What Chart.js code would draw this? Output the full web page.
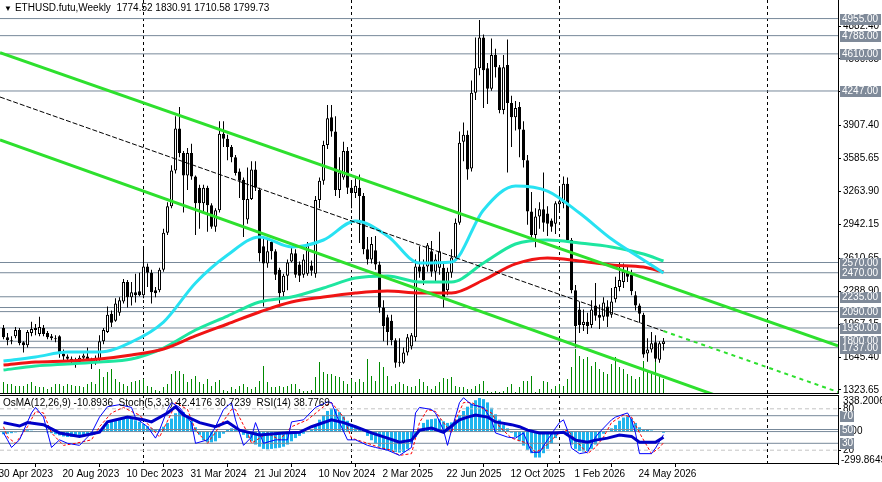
<!DOCTYPE html>
<html>
<head>
<meta charset="utf-8">
<script src="https://cdn.jsdelivr.net/npm/chart.js@4.4.1/dist/chart.umd.min.js"></script>
<style>
  html, body { margin: 0; padding: 0; background: #fff; }
  #wrap { position: relative; width: 882px; height: 482px; overflow: hidden; background: #fff; }
  #main { position: absolute; left: 0; top: 0; }
  #sub { position: absolute; left: 0; top: 395px; }
  .hdr { position: absolute; color: #000; white-space: pre; line-height: 12px; }
  .tri { font-size: 8px; margin-right: 3px; }
</style>
</head>
<body>
<div id="wrap">
  <canvas id="main" width="882" height="394"></canvas>
  <canvas id="sub" width="882" height="87"></canvas>
  <div class="hdr" id="hdrMain" style="left:4px; top:2px"><span class="tri">&#9660;</span>ETHUSD.futu,Weekly  1774.52 1830.91 1710.58 1799.73</div>
  <div class="hdr" id="hdrSub" style="left:3px; top:397px">OsMA(12,26,9) -10.8936  Stoch(5,3,3) 42.4176 30.7239  RSI(14) 38.7769</div>
</div>
<script>
// weekly candles, one per bar index (bar 0 = 30 Apr 2023)
const opens = [
  1930,1840,1810,1850,1910,1790,1760,1880,1910,1870,
  1930,1880,1850,1830,1850,1680,1650,1630,1620,1600,
  1640,1650,1620,1590,1620,1800,1890,2070,2000,2080,
  2190,2380,2230,2280,2290,2250,2530,2470,2300,2300,
  2500,2860,3120,3470,3880,3640,3420,3640,3410,3300,
  3150,3300,3130,2920,3080,3830,3780,3700,3600,3460,
  3380,2990,3190,3480,3280,2730,2560,2770,2680,2500,
  2280,2440,2580,2660,2550,2450,2460,2540,2460,3180,
  3370,3720,3990,3850,3280,3400,3660,3300,3250,3300,
  3220,2700,2600,2690,2550,2130,2036,2000,1810,1590,
  1590,1690,1750,1840,2530,2530,2530,2680,2480,2520,
  2520,2300,2470,2620,2960,3750,3820,3490,4230,4470,
  4770,4470,4270,4600,4480,4060,4500,4130,3990,4090,
  3870,3570,3070,2840,3020,3090,3050,2980,2950,3140,
  3150,3340,2790,2300,2110,1960,1990,1960,2150,2060,
  2040,2140,2060,2210,2330,2380,2470,2450,2250,2150,
  2060,1680,1720,1790,1620,1774.52];
const highs = [
  1960,1880,1850,1940,1930,1800,1910,1990,1970,2040,
  1960,1900,1870,1860,1860,1720,1670,1650,1640,1660,
  1680,1740,1640,1660,1860,1930,2140,2100,2220,2230,
  2410,2400,2380,2460,2470,2710,2560,2500,2330,2520,
  2900,3160,3520,4000,4090,3660,3690,3730,3420,3330,
  3330,3320,3150,3100,3950,3950,3820,3720,3620,3490,
  3400,3500,3560,3560,3300,2800,2790,2800,2700,2520,
  2460,2600,2720,2700,2580,2650,2770,2590,3220,3400,
  3760,4110,4110,4000,3600,3750,3700,3350,3400,3430,
  3250,2820,2820,2830,2580,2200,2060,2060,1830,1830,
  1740,1870,1880,2600,2730,2600,2760,2780,2650,2870,
  2560,2520,2700,3000,3850,3940,3860,4350,4770,4940,
  4800,4520,4760,4660,4500,4600,4750,4200,4150,4140,
  3950,3620,3260,3100,3160,3450,3120,3000,3170,3300,
  3410,3400,2810,2350,2190,2110,2080,2200,2370,2160,
  2230,2200,2320,2430,2570,2560,2530,2500,2290,2170,
  2080,1830,1890,1860,1800,1830.91];
const lows = [
  1820,1760,1770,1830,1760,1690,1740,1850,1860,1850,
  1850,1820,1810,1790,1640,1600,1600,1580,1540,1580,
  1610,1610,1530,1570,1610,1770,1880,1940,1990,2050,
  2170,2130,2150,2180,2240,2220,2330,2170,2230,2280,
  2480,2840,3100,3440,3600,3060,3280,3380,2840,2900,
  3050,2870,2900,2870,3060,3700,3570,3550,3420,3200,
  2820,2950,3180,3270,2580,2140,2520,2600,2400,2170,
  2240,2300,2570,2420,2380,2420,2440,2440,2420,3100,
  3330,3680,3800,3220,3200,3380,3240,3100,3200,2760,
  2650,2550,2560,2500,2080,1800,1760,1760,1540,1550,
  1580,1660,1720,1800,2420,2350,2480,2430,2380,2450,
  2130,2250,2420,2600,2940,3560,3380,3460,4160,4400,
  4080,4120,4250,4380,4030,4020,3450,3700,3860,3600,
  3500,2940,2780,2720,2900,2870,2830,2870,2850,3060,
  3100,2760,2270,1740,1880,1900,1870,1930,2000,1920,
  2000,1940,2030,2180,2290,2320,2380,2250,2100,1980,
  1640,1600,1690,1600,1590,1710.58];
const closes = [
  1840,1810,1800,1910,1780,1760,1890,1920,1930,1940,
  1870,1840,1830,1820,1680,1650,1630,1610,1600,1640,
  1660,1620,1590,1640,1800,1910,2060,1980,2170,2200,
  2380,2230,2280,2250,2250,2530,2470,2280,2270,2500,
  2860,3120,3470,3880,3640,3420,3640,3410,3150,3150,
  3300,3130,2920,3080,3830,3780,3700,3600,3445,3370,
  3180,3190,3480,3300,2660,2560,2680,2680,2450,2270,
  2440,2570,2660,2450,2440,2600,2740,2490,3180,3370,
  3720,3980,3850,3280,3450,3660,3300,3250,3320,3220,
  2700,2600,2750,2550,2130,1950,1890,1810,1590,1600,
  1690,1840,1860,2530,2480,2400,2740,2480,2600,2680,
  2230,2480,2620,2960,3740,3820,3480,4230,4470,4770,
  4450,4270,4600,4480,4060,4480,4130,3990,4080,3870,
  3570,3070,2840,3020,3090,2960,2950,2920,3150,3170,
  3340,2790,2300,1950,1960,1990,1950,2110,2050,2030,
  2180,2040,2190,2330,2400,2480,2430,2290,2150,2070,
  1670,1720,1780,1630,1780,1799.73];
const volumes = [
  12,10,10,8,8,8,10,12,8,7,
  7,5,7,10,10,8,10,9,8,8,
  7,10,12,10,25,17,22,25,15,12,
  10,8,12,13,14,15,8,7,4,3,
  7,10,20,23,23,20,12,15,18,12,
  10,15,8,12,14,4,3,7,5,8,
  10,7,5,7,13,28,12,7,7,8,
  7,8,10,10,5,3,3,4,17,32,
  22,20,20,18,17,13,10,15,12,15,
  12,35,18,13,32,27,18,8,10,12,
  10,8,7,8,15,12,8,5,8,12,
  16,15,17,8,7,7,5,5,8,10,
  13,3,2,3,2,3,7,10,2,7,
  13,13,18,2,5,13,12,5,8,10,
  8,15,27,45,38,35,37,28,32,25,
  22,20,30,37,27,25,20,18,15,17,
  33,23,20,37,20,15];

// moving averages, read every 8 bars
const maIdx = [0,8,16,24,32,40,48,56,64,72,80,88,96,104,112,120,128,136,144,152,160,165];
const maCyan = [1607,1646,1695,1695,1793,1988,2370,2643,2820,2722,2790,2976,2829,2565,2575,3084,3318,3269,3054,2800,2595,2468];
const maTeal = [1519,1558,1578,1597,1627,1734,1910,2047,2184,2233,2321,2418,2438,2380,2380,2565,2751,2790,2761,2722,2653,2585];
const maRed  = [1568,1597,1607,1627,1666,1724,1852,1969,2086,2184,2233,2272,2292,2272,2272,2399,2556,2614,2585,2546,2526,2477];

// horizontal levels and trend channel
const levels = [4955,4788,4610,4247,2570,2470,2235,2130,2090,1930,1800,1737];
const unlabeledLevels = [2130];
const chanUpper = [4622, 1755];
const chanLower = [3768, 845];
const midIdx = [-0.875, 165, 208.625];
const midVals = [4188, 1900, 1304];

const priceTicks = [1323.65,1645.40,1967.15,2288.90,2610.65,2942.15,3263.90,3585.65,3907.40,4238.90,4560.65,4882.40];

// oscillators
const osma = [
  -25,-20,-15,-8,5,10,12,8,5,3,
  -3,-8,-15,-25,-35,-45,-50,-50,-48,-45,
  -42,-40,-35,-20,10,40,70,90,105,110,
  120,125,120,105,90,70,50,30,15,20,
  45,80,120,170,190,180,150,100,40,-30,
  -80,-100,-100,-90,-60,-20,15,30,25,5,
  -30,-60,-90,-120,-140,-160,-165,-160,-155,-150,
  -140,-120,-90,-60,-40,-20,-5,20,60,110,
  150,190,215,210,180,140,100,70,50,30,
  5,-40,-80,-110,-140,-160,-175,-185,-190,-195,
  -190,-160,-110,-50,10,80,110,115,120,115,
  95,80,85,110,150,190,230,260,290,310,
  300,270,220,160,110,60,30,-10,-50,-90,
  -130,-170,-200,-240,-240,-200,-160,-110,-60,-20,
  5,-40,-120,-160,-180,-185,-180,-160,-120,-60,
  -20,0,30,60,100,130,140,120,80,40,
  20,15,10,5,5,-10.89];
const rsiIdx = [0,4,6,10,14,19,24,26,31,35,37,41,43,45,49,53,56,59,64,70,74,77,82,85,88,92,96,99,102,104,107,110,114,116,118,121,123,127,129,131,134,138,140,143,146,148,151,154,157,159,163,165];
const rsiVals = [60,55,60,57,45,40,46,61,68,64,61,74,83,71,60,54,61,49,42,45,46,54,64,60,54,45,37.5,31.6,34.6,49,52,46,64,68,71,68,61,57,54,49,45,45,46,34.6,31.6,34.6,37.5,42,40,31.6,31.6,38.78];
const stochIdx = [0,1,2,4,7,8,10,12,14,16,19,22,24,26,29,32,33,36,38,39,41,42,44,47,48,51,53,55,57,58,60,62,63,65,68,71,72,75,78,81,82,84,86,88,91,93,96,99,102,103,104,107,108,110,111,112,114,115,117,120,122,123,126,128,130,132,134,136,138,139,140,141,142,144,146,148,149,152,153,156,157,158,159,162,163,165];
const stochMain = [45,35,24,35,74,82,68,24,35,30,27,45,68,83,86,82,67,54,37.5,49,79,89,82,60,30,35,54,79,89,64,27,39,60,30,35,35,61,64,82,90,89,60,35,35,27,24,20,12.5,24,74,82,79,74,49,27,49,89,96,86,82,64,45,39,37.5,45,17,17,35,52,60,64,49,23,15,17,39,46,64,68,74,64,45,15,15,23,42.42];
const sigIdx = [0,1,3,6,8,10,12,15,18,22,24,27,30,32,34,37,39,42,43,46,48,51,54,57,58,61,62,66,69,72,76,80,82,85,87,91,94,97,99,102,104,106,108,110,112,113,115,117,119,122,124,127,131,133,135,137,139,141,143,146,148,150,152,155,157,159,162,164,165];
const sigVals = [54,39,30,54,76,74,45,27,30,35,54,74,82,76,71,52,39,74,89,79,49,30,54,79,79,45,30,45,35,54,64,83,89,68,37.5,30,24,20,12.5,15,60,79,76,60,45,64,89,89,83,74,54,37.5,30,17,23,35,45,49,35,15,24,39,60,71,68,45,15,24,30.72];
const oscLevels = [70, 50, 30];
const oscDashed = [80, 20];

// time axis
const dateIdx = [0,16,32,48,64,80,96,112,128,144,160];
const dateLabels = ['30 Apr 2023','20 Aug 2023','10 Dec 2023','31 Mar 2024','21 Jul 2024','10 Nov 2024','2 Mar 2025','22 Jun 2025','12 Oct 2025','1 Feb 2026','24 May 2026'];
const yearSeps = [35, 87, 139, 191];

const X_MIN = -0.875, X_MAX = 208.625;

// pick a narrow font if present
function hasFont(name) {
  const c = document.createElement('canvas').getContext('2d');
  const s = '1234567890.ABCDabcd';
  c.font = '20px monospace';
  const w0 = c.measureText(s).width;
  c.font = '20px "' + name + '", monospace';
  return c.measureText(s).width !== w0;
}
const narrow = hasFont('Liberation Sans Narrow');
const FAMILY = narrow ? '"Liberation Sans Narrow", "Liberation Sans", Arial, sans-serif' : '"Liberation Sans", Arial, sans-serif';
const FSIZE = narrow ? 11 : 10;
const FONTSTR = FSIZE + 'px ' + FAMILY;
document.querySelectorAll('.hdr').forEach(d => { d.style.font = FONTSTR; d.style.lineHeight = '12px'; });

Chart.defaults.font.family = FAMILY;
Chart.defaults.font.size = FSIZE;
Chart.defaults.color = '#000';
Chart.defaults.animation = false;
Chart.defaults.plugins.legend.display = false;
Chart.defaults.plugins.tooltip.enabled = false;

const idx = opens.map((_, i) => i);
const pts = (xs, ys) => xs.map((x, k) => ({x: x, y: ys[k]}));
const flat = v => [{x: X_MIN, y: v}, {x: X_MAX, y: v}];
const line = (data, color, width, extra) => Object.assign({
  type: 'line', data: data, borderColor: color, borderWidth: width,
  pointRadius: 0, fill: false, tension: 0, xAxisID: 'x', yAxisID: 'y'
}, extra || {});

const GREEN = '#2ee02e';
const LEVEL = '#778899';

function drawSeps(chart) {
  const {ctx, chartArea, scales} = chart;
  ctx.save();
  ctx.strokeStyle = '#000';
  ctx.lineWidth = 1;
  ctx.setLineDash([3, 3]);
  yearSeps.forEach(v => {
    const x = Math.floor(scales.x.getPixelForValue(v)) + 0.5;
    ctx.beginPath();
    ctx.moveTo(x, chartArea.top);
    ctx.lineTo(x, chartArea.bottom);
    ctx.stroke();
  });
  ctx.restore();
}

function labelBox(ctx, x, y, w, text) {
  ctx.fillStyle = '#7f8a99';
  ctx.fillRect(x, Math.round(y) - 5, w, 11);
  ctx.fillStyle = '#fff';
  ctx.textAlign = 'left';
  ctx.textBaseline = 'middle';
  ctx.fillText(text, x + 2, Math.round(y) + 0.5);
}

// ---------- price panel ----------
const mainDecor = {
  id: 'mainDecor',
  beforeDatasetsDraw(chart) { drawSeps(chart); },
  afterDraw(chart) {
    const {ctx, chartArea, scales} = chart;
    ctx.save();
    ctx.strokeStyle = '#000';
    ctx.lineWidth = 1;
    ctx.beginPath();
    ctx.moveTo(chartArea.left, chartArea.bottom - 0.5);
    ctx.lineTo(chartArea.right, chartArea.bottom - 0.5);
    ctx.stroke();
    ctx.font = FONTSTR;
    levels.forEach(v => {
      if (unlabeledLevels.includes(v)) return;
      labelBox(ctx, chartArea.right + 2, scales.y.getPixelForValue(v), 41, v.toFixed(2));
    });
    ctx.restore();
  }
};

const mainDatasets = [
  {
    type: 'bar', label: 'volume', xAxisID: 'x', yAxisID: 'yv', order: 20,
    data: pts(idx, volumes), backgroundColor: '#008a00',
    barThickness: 1, grouped: false, inflateAmount: 0
  }
];
levels.forEach(v => mainDatasets.push(line(flat(v), LEVEL, 1, {order: 15})));
mainDatasets.push({
  type: 'bar', label: 'wick', xAxisID: 'x', yAxisID: 'y', order: 8,
  data: idx.map(i => ({x: i, y: [lows[i], highs[i]]})),
  backgroundColor: '#000', barThickness: 1, grouped: false, inflateAmount: 0, borderWidth: 0
});
mainDatasets.push({
  type: 'bar', label: 'body', xAxisID: 'x', yAxisID: 'y', order: 7,
  data: idx.map(i => ({x: i, y: [Math.min(opens[i], closes[i]), Math.max(opens[i], closes[i])]})),
  backgroundColor: idx.map(i => closes[i] >= opens[i] ? '#fff' : '#000'),
  borderColor: '#000', borderWidth: 1, borderSkipped: false,
  barThickness: 3, grouped: false, inflateAmount: 0, minBarLength: 1
});
mainDatasets.push(line(pts(maIdx, maTeal), '#1ee6a0', 3, {order: 5, cubicInterpolationMode: 'monotone'}));
mainDatasets.push(line(pts(maIdx, maRed), '#f01414', 3, {order: 4, cubicInterpolationMode: 'monotone'}));
mainDatasets.push(line(pts(maIdx, maCyan), '#28e2f2', 3, {order: 3, cubicInterpolationMode: 'monotone'}));
mainDatasets.push(line(pts([X_MIN, X_MAX], chanUpper), GREEN, 3, {order: 1}));
mainDatasets.push(line(pts([X_MIN, X_MAX], chanLower), GREEN, 3, {order: 1}));
mainDatasets.push(line(pts(midIdx, midVals), '#000', 1, {
  order: 0,
  segment: {
    borderColor: c => c.p0DataIndex === 0 ? '#000' : GREEN,
    borderWidth: c => c.p0DataIndex === 0 ? 1 : 2,
    borderDash: c => c.p0DataIndex === 0 ? [5, 2] : [4, 4]
  }
}));

new Chart(document.getElementById('main'), {
  type: 'bar',
  data: { datasets: mainDatasets },
  options: {
    responsive: false,
    animation: false,
    layout: { padding: 0, autoPadding: false },
    scales: {
      x: { type: 'linear', min: X_MIN, max: X_MAX, offset: false, display: false },
      y: {
        type: 'linear', position: 'right', min: 1284.5, max: 5136.6,
        afterBuildTicks: s => { s.ticks = priceTicks.map(v => ({value: v})); },
        afterFit: s => { s.width = 44; s.paddingTop = 0; s.paddingBottom = 0; },
        ticks: { autoSkip: false, padding: 2, callback: v => Number(v).toFixed(2) },
        grid: { drawOnChartArea: false, tickLength: 3, color: '#000' },
        border: { color: '#000', width: 1 }
      },
      yv: { type: 'linear', min: 0, max: 394, display: false }
    }
  },
  plugins: [mainDecor]
});

// ---------- oscillator panel ----------
const subDecor = {
  id: 'subDecor',
  beforeDatasetsDraw(chart) { drawSeps(chart); },
  afterDraw(chart) {
    const {ctx, chartArea, scales} = chart;
    ctx.save();
    ctx.strokeStyle = '#000';
    ctx.lineWidth = 1;
    ctx.beginPath();
    ctx.moveTo(chartArea.left, chartArea.top + 0.5);
    ctx.lineTo(chartArea.right, chartArea.top + 0.5);
    ctx.moveTo(chartArea.left, chartArea.bottom - 0.5);
    ctx.lineTo(chartArea.right, chartArea.bottom - 0.5);
    ctx.stroke();
    ctx.font = FONTSTR;
    ctx.fillStyle = '#000';
    ctx.textAlign = 'left';
    const lx = chartArea.right + 5;
    ctx.textBaseline = 'top';
    ctx.fillText('338.2006', lx, scales.yo.getPixelForValue(338.2006) + 1);
    ctx.textBaseline = 'middle';
    ctx.fillText('0.00', lx, scales.yo.getPixelForValue(0));
    ctx.textBaseline = 'bottom';
    ctx.fillText('-299.8649', chartArea.right + 3, scales.yo.getPixelForValue(-299.8649) + 1);
    oscLevels.forEach(v => labelBox(ctx, chartArea.right + 2, scales.yr.getPixelForValue(v), 14, String(v)));
    ctx.restore();
  }
};

const subDatasets = [
  {
    type: 'bar', label: 'OsMA', xAxisID: 'x', yAxisID: 'yo', order: 20,
    data: pts(idx, osma), backgroundColor: '#1fb5ee',
    barThickness: 3, grouped: false, inflateAmount: 0
  },
  line(flat(0), LEVEL, 1, {yAxisID: 'yo', order: 15})
];
oscLevels.forEach(v => subDatasets.push(line(flat(v), LEVEL, 1, {yAxisID: 'yr', order: 15})));
oscDashed.forEach(v => subDatasets.push(line(flat(v), '#c4c4c4', 1, {yAxisID: 'yr', order: 15, borderDash: [4, 3]})));
subDatasets.push(line(pts(sigIdx, sigVals), '#ff0000', 1, {yAxisID: 'yr', order: 3, borderDash: [3, 2]}));
subDatasets.push(line(pts(stochIdx, stochMain), '#0000ff', 1, {yAxisID: 'yr', order: 2}));
subDatasets.push(line(pts(rsiIdx, rsiVals), '#0000c8', 3, {yAxisID: 'yr', order: 1}));

new Chart(document.getElementById('sub'), {
  type: 'bar',
  data: { datasets: subDatasets },
  options: {
    responsive: false,
    animation: false,
    layout: { padding: 0, autoPadding: false },
    scales: {
      x: {
        type: 'linear', min: X_MIN, max: X_MAX, offset: false, position: 'bottom',
        afterBuildTicks: s => { s.ticks = dateIdx.map(v => ({value: v})); },
        afterFit: s => { s.height = 18; s.paddingLeft = 0; s.paddingRight = 0; },
        ticks: {
          autoSkip: false, maxRotation: 0, align: 'start', labelOffset: -5, padding: 1,
          callback: v => dateLabels[dateIdx.indexOf(v)]
        },
        grid: { drawOnChartArea: false, tickLength: 3, color: '#000' },
        border: { display: false }
      },
      yo: { type: 'linear', min: -299.8649, max: 338.2006, display: false },
      yr: {
        type: 'linear', position: 'right', min: 0, max: 100,
        afterBuildTicks: s => { s.ticks = oscDashed.map(v => ({value: v})); },
        afterFit: s => { s.width = 44; s.paddingTop = 0; s.paddingBottom = 0; },
        ticks: { autoSkip: false, padding: 2 },
        grid: { drawOnChartArea: false, tickLength: 3, color: '#000' },
        border: { color: '#000', width: 1 }
      }
    }
  },
  plugins: [subDecor]
});
</script>
</body>
</html>
